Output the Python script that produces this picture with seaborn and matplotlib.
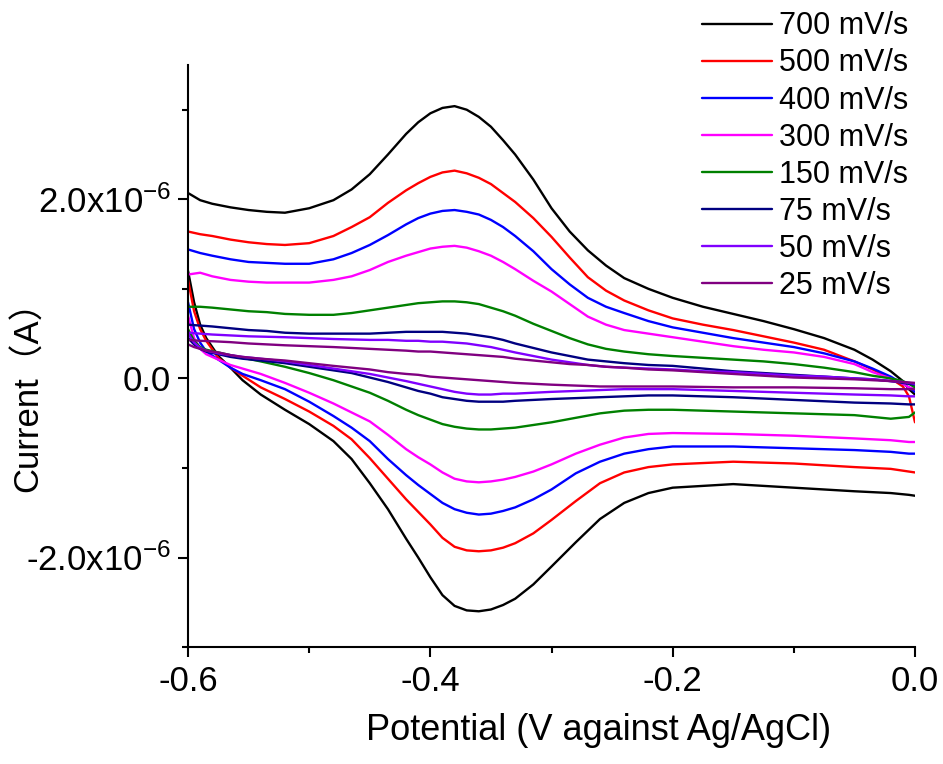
import matplotlib
matplotlib.use("Agg")
import matplotlib.pyplot as plt
import pandas as pd
import seaborn as sns
from matplotlib.ticker import MultipleLocator, FormatStrFormatter

# scan rates and colours (legend order)
rates = ["700 mV/s", "500 mV/s", "400 mV/s", "300 mV/s",
         "150 mV/s", "75 mV/s", "50 mV/s", "25 mV/s"]
colors = ["#000000", "#ff0000", "#0000ff", "#ff00ff",
          "#008000", "#000080", "#8000ff", "#800080"]

# anodic branch, -0.6 V -> 0.0 V
x_fwd = [-0.6, -0.59, -0.58, -0.565, -0.55, -0.535, -0.52, -0.5, -0.48, -0.465,
         -0.45, -0.435, -0.42, -0.41, -0.4, -0.39, -0.38, -0.37,
         -0.36, -0.35, -0.34, -0.33, -0.315, -0.3, -0.285, -0.27, -0.255, -0.24,
         -0.22, -0.2, -0.175, -0.15, -0.125, -0.1, -0.075, -0.05, -0.035, -0.02,
         -0.01, -0.005, 0.0]
# cathodic branch, 0.0 V -> -0.6 V
x_rev = [0.0, -0.005, -0.02, -0.05, -0.1, -0.15, -0.2, -0.22, -0.24, -0.26,
         -0.28, -0.3, -0.315, -0.33, -0.34, -0.35, -0.36, -0.37, -0.38, -0.39,
         -0.4, -0.41, -0.42, -0.435, -0.45, -0.465, -0.48, -0.5, -0.52, -0.54,
         -0.555, -0.565, -0.575, -0.585, -0.59, -0.595, -0.6]

# currents in uA
fwd_700 = [2.07, 1.99, 1.95, 1.91, 1.88, 1.86, 1.85, 1.9, 1.99, 2.11,
           2.28, 2.5, 2.73, 2.86, 2.96, 3.02, 3.04, 3.0,
           2.92, 2.81, 2.66, 2.5, 2.22, 1.9, 1.64, 1.43, 1.26, 1.12,
           1.0, 0.9, 0.8, 0.72, 0.64, 0.55, 0.45, 0.32, 0.21, 0.08,
           -0.03, -0.12, -0.18]
fwd_500 = [1.64, 1.61, 1.59, 1.55, 1.52, 1.5, 1.49, 1.51, 1.59, 1.69,
           1.8, 1.96, 2.1, 2.18, 2.25, 2.3, 2.32, 2.29,
           2.24, 2.17, 2.07, 1.97, 1.79, 1.58, 1.35, 1.13, 0.98, 0.87,
           0.76, 0.67, 0.6, 0.54, 0.47, 0.4, 0.32, 0.19, 0.1, 0.0,
           -0.09, -0.2, -0.49]
fwd_400 = [1.44, 1.4, 1.37, 1.33, 1.3, 1.29, 1.28, 1.28, 1.33, 1.4,
           1.49, 1.6, 1.72, 1.79, 1.84, 1.87, 1.88, 1.86,
           1.83, 1.77, 1.69, 1.59, 1.42, 1.22, 1.05, 0.9, 0.8, 0.73,
           0.64, 0.57, 0.51, 0.45, 0.4, 0.35, 0.28, 0.19, 0.11, 0.02,
           -0.06, -0.1, -0.15]
fwd_300 = [1.16, 1.18, 1.14, 1.1, 1.08, 1.07, 1.07, 1.07, 1.1, 1.14,
           1.21, 1.3, 1.37, 1.41, 1.45, 1.47, 1.48, 1.46,
           1.42, 1.37, 1.3, 1.22, 1.09, 0.97, 0.83, 0.69, 0.6, 0.54,
           0.5, 0.46, 0.41, 0.36, 0.32, 0.29, 0.24, 0.16, 0.07, 0.0,
           -0.06, -0.1, -0.12]
fwd_150 = [0.8, 0.8, 0.79, 0.77, 0.75, 0.74, 0.72, 0.71, 0.71, 0.73,
           0.76, 0.79, 0.82, 0.84, 0.85, 0.86, 0.86, 0.85,
           0.83, 0.79, 0.75, 0.7, 0.61, 0.53, 0.45, 0.38, 0.33, 0.3,
           0.27, 0.25, 0.23, 0.21, 0.19, 0.16, 0.12, 0.07, 0.03, 0.0,
           -0.03, -0.06, -0.1]
fwd_75 = [0.6, 0.59, 0.58, 0.56, 0.54, 0.53, 0.51, 0.5, 0.5, 0.5,
          0.5, 0.51, 0.52, 0.52, 0.52, 0.52, 0.51, 0.5,
          0.48, 0.46, 0.43, 0.39, 0.34, 0.29, 0.25, 0.21, 0.19, 0.17,
          0.15, 0.14, 0.11, 0.08, 0.06, 0.04, 0.02, 0.0, -0.01, -0.03,
          -0.05, -0.06, -0.07]
fwd_50 = [0.51, 0.5, 0.49, 0.48, 0.47, 0.465, 0.46, 0.45, 0.44, 0.435,
          0.43, 0.43, 0.42, 0.42, 0.41, 0.41, 0.4, 0.39,
          0.37, 0.35, 0.32, 0.29, 0.25, 0.21, 0.18, 0.15, 0.13, 0.12,
          0.11, 0.1, 0.08, 0.07, 0.05, 0.03, 0.02, 0.0, -0.01, -0.03,
          -0.04, -0.05, -0.06]
fwd_25 = [0.43, 0.42, 0.415, 0.405, 0.39, 0.38, 0.37, 0.36, 0.35, 0.34,
          0.33, 0.32, 0.31, 0.3, 0.3, 0.29, 0.28, 0.27,
          0.26, 0.25, 0.24, 0.22, 0.2, 0.18, 0.16, 0.15, 0.13, 0.12,
          0.1, 0.09, 0.07, 0.05, 0.03, 0.01, 0.0, -0.01, -0.02, -0.03,
          -0.04, -0.045, -0.05]

rev_700 = [-1.31, -1.3, -1.28, -1.26, -1.22, -1.18, -1.22, -1.28, -1.39, -1.57,
           -1.83, -2.1, -2.3, -2.46, -2.53, -2.58, -2.6, -2.59, -2.54, -2.42,
           -2.22, -2.0, -1.79, -1.46, -1.17, -0.9, -0.7, -0.51, -0.35, -0.18,
           -0.02, 0.12, 0.25, 0.45, 0.6, 0.85, 1.2]
rev_500 = [-1.05, -1.04, -1.01, -0.99, -0.95, -0.93, -0.96, -0.99, -1.05, -1.17,
           -1.37, -1.58, -1.73, -1.84, -1.89, -1.92, -1.93, -1.92, -1.88, -1.78,
           -1.63, -1.49, -1.35, -1.12, -0.89, -0.68, -0.53, -0.37, -0.23, -0.1,
           0.03, 0.12, 0.23, 0.42, 0.55, 0.75, 1.1]
rev_400 = [-0.84, -0.84, -0.82, -0.8, -0.78, -0.76, -0.76, -0.79, -0.84, -0.93,
           -1.06, -1.24, -1.35, -1.44, -1.48, -1.51, -1.52, -1.5, -1.46, -1.39,
           -1.29, -1.19, -1.08, -0.9, -0.7, -0.55, -0.42, -0.26, -0.12, -0.02,
           0.05, 0.12, 0.21, 0.3, 0.4, 0.55, 0.85]
rev_300 = [-0.71, -0.71, -0.69, -0.67, -0.64, -0.62, -0.61, -0.62, -0.66, -0.74,
           -0.84, -0.96, -1.04, -1.1, -1.13, -1.15, -1.16, -1.15, -1.12, -1.05,
           -0.96, -0.88, -0.79, -0.63, -0.48, -0.38, -0.28, -0.16, -0.05, 0.05,
           0.11, 0.15, 0.21, 0.27, 0.33, 0.45, 0.7]
rev_150 = [-0.38, -0.43, -0.45, -0.41, -0.39, -0.37, -0.35, -0.35, -0.36, -0.39,
           -0.44, -0.49, -0.52, -0.55, -0.56, -0.57, -0.57, -0.56, -0.54, -0.51,
           -0.46, -0.41, -0.35, -0.25, -0.16, -0.09, -0.02, 0.06, 0.13, 0.19,
           0.23, 0.26, 0.29, 0.32, 0.35, 0.42, 0.55]
rev_75 = [-0.29, -0.29, -0.28, -0.27, -0.24, -0.21, -0.19, -0.19, -0.2, -0.21,
          -0.22, -0.23, -0.24, -0.25, -0.26, -0.26, -0.26, -0.25, -0.23, -0.21,
          -0.17, -0.14, -0.1, -0.04, 0.01, 0.06, 0.09, 0.13, 0.17, 0.2,
          0.22, 0.24, 0.27, 0.3, 0.33, 0.38, 0.45]
rev_50 = [-0.2, -0.2, -0.19, -0.18, -0.16, -0.14, -0.12, -0.12, -0.12, -0.13,
          -0.14, -0.15, -0.16, -0.17, -0.17, -0.18, -0.18, -0.17, -0.15, -0.12,
          -0.09, -0.06, -0.03, 0.01, 0.05, 0.08, 0.11, 0.15, 0.19, 0.22,
          0.24, 0.26, 0.28, 0.31, 0.34, 0.4, 0.5]
rev_25 = [-0.12, -0.12, -0.12, -0.11, -0.1, -0.1, -0.09, -0.09, -0.09, -0.09,
          -0.08, -0.07, -0.06, -0.05, -0.04, -0.03, -0.02, -0.01, 0.0, 0.01,
          0.02, 0.04, 0.05, 0.07, 0.1, 0.12, 0.14, 0.17, 0.2, 0.22,
          0.24, 0.26, 0.29, 0.31, 0.33, 0.35, 0.38]

fwd_all = [fwd_700, fwd_500, fwd_400, fwd_300, fwd_150, fwd_75, fwd_50, fwd_25]
rev_all = [rev_700, rev_500, rev_400, rev_300, rev_150, rev_75, rev_50, rev_25]

rows = []
for rate, fwd, rev in zip(rates, fwd_all, rev_all):
    assert len(fwd) == len(x_fwd) and len(rev) == len(x_rev), rate
    for x, y in zip(x_fwd, fwd):
        rows.append({"Rate": rate, "Branch": rate + " fwd", "Potential": x, "Current": y * 1e-6})
    for x, y in zip(x_rev, rev):
        rows.append({"Rate": rate, "Branch": rate + " rev", "Potential": x, "Current": y * 1e-6})
df = pd.DataFrame(rows)

sns.set_style("ticks")
plt.rcParams["font.family"] = ["Liberation Sans", "Noto Sans CJK SC", "DejaVu Sans"]
plt.rcParams["mathtext.fontset"] = "custom"
plt.rcParams["mathtext.rm"] = "Liberation Sans"
plt.rcParams["mathtext.default"] = "regular"
plt.rcParams["axes.unicode_minus"] = False
for key in ["text.color", "axes.labelcolor", "xtick.color", "ytick.color", "axes.edgecolor"]:
    plt.rcParams[key] = "black"

fig, ax = plt.subplots(figsize=(9.43, 7.64), dpi=100)
fig.subplots_adjust(left=0.1994, right=0.9703, bottom=0.153, top=0.915)

sns.lineplot(data=df, x="Potential", y="Current", hue="Rate", units="Branch",
             estimator=None, sort=False, hue_order=rates, palette=colors,
             linewidth=1.7, ax=ax)

ax.set_xlim(-0.6, 0.0)
ax.set_ylim(-3e-6, 3.5e-6)
ax.xaxis.set_major_locator(MultipleLocator(0.2))
ax.xaxis.set_minor_locator(MultipleLocator(0.1))
ax.xaxis.set_major_formatter(FormatStrFormatter("%.1f"))
ax.set_yticks([-2e-6, 0, 2e-6])
ax.set_yticklabels(["-2.0x10$^{-6}$", "0.0", "2.0x10$^{-6}$"])
ax.yaxis.set_minor_locator(MultipleLocator(1e-6))

for side in ["top", "right"]:
    ax.spines[side].set_visible(False)
for side in ["left", "bottom"]:
    ax.spines[side].set_linewidth(1.5)

ax.tick_params(axis="both", which="major", direction="out", length=7, width=1.5)
ax.tick_params(axis="both", which="minor", direction="out", length=4, width=1.5)
ax.tick_params(axis="x", labelsize=25, pad=6)
ax.tick_params(axis="y", labelsize=25, pad=5)

ax.set_xlabel("Potential (V against Ag/AgCl)", fontsize=26)
ax.xaxis.set_label_coords(0.565, -0.114)
ax.set_ylabel("Current\uff08A\uff09", fontsize=25)
ax.yaxis.set_label_coords(-0.197, 0.445)

handles, labels = ax.get_legend_handles_labels()
ax.legend(handles, labels, loc="upper left", bbox_to_anchor=(0.744, 0.985),
          bbox_transform=fig.transFigure, frameon=False, fontsize=22,
          handlelength=2.3, handletextpad=0.22, labelspacing=0.23,
          borderpad=0, borderaxespad=0)

plt.savefig("out.png", dpi=100)
plt.close()
